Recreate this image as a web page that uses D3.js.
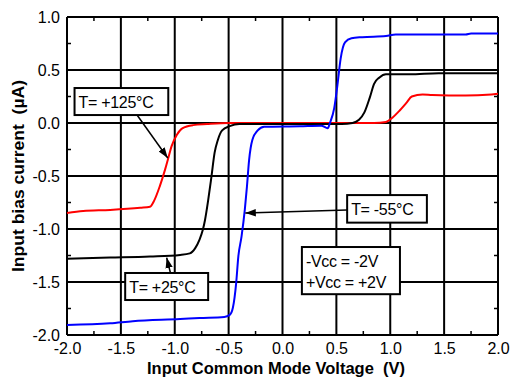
<!DOCTYPE html>
<html>
<head>
<meta charset="utf-8">
<script src="https://cdn.jsdelivr.net/npm/d3@7"></script>
<style>
  html, body { margin: 0; padding: 0; background: #fff; }
  svg text { font-family: "Liberation Sans", Arial, sans-serif; fill: #000; white-space: pre; }
</style>
</head>
<body>
<svg id="chart" width="512" height="381"></svg>
<script>
// Input bias current vs. input common-mode voltage at three temperatures
const xTicks = [-2.0, -1.5, -1.0, -0.5, 0.0, 0.5, 1.0, 1.5, 2.0];
const yTicks = [1.0, 0.5, 0.0, -0.5, -1.0, -1.5, -2.0];

// T = +125 °C
const hotV = [-2.0, -1.85, -1.6, -1.32, -1.23, -1.19, -1.14, -1.09, -1.06, -1.03, -0.98, -0.93, -0.83, -0.70, -0.5, 0.0, 0.5, 0.85, 0.96, 1.02, 1.08, 1.15, 1.20, 1.30, 1.39, 1.70, 1.94, 2.0];
const hotI = [-0.85, -0.83, -0.82, -0.80, -0.79, -0.73, -0.60, -0.44, -0.33, -0.22, -0.11, -0.05, -0.02, -0.01, 0.0, 0.0, 0.0, 0.0, 0.01, 0.05, 0.11, 0.19, 0.25, 0.27, 0.265, 0.26, 0.27, 0.275];

// T = +25 °C
const roomV = [-2.0, -1.6, -1.23, -0.95, -0.86, -0.81, -0.77, -0.74, -0.72, -0.69, -0.66, -0.63, -0.60, -0.56, -0.49, -0.40, 0.0, 0.55, 0.65, 0.71, 0.76, 0.81, 0.85, 0.90, 0.96, 1.18, 1.45, 2.0];
const roomI = [-1.28, -1.27, -1.26, -1.245, -1.23, -1.18, -1.10, -1.01, -0.92, -0.73, -0.51, -0.28, -0.16, -0.07, -0.03, -0.01, -0.01, -0.01, 0.0, 0.03, 0.10, 0.24, 0.37, 0.43, 0.46, 0.46, 0.47, 0.47];

// T = -55 °C
const coldV = [-2.0, -1.6, -1.39, -0.95, -0.77, -0.54, -0.49, -0.46, -0.43, -0.41, -0.38, -0.35, -0.33, -0.31, -0.28, -0.23, -0.17, 0.16, 0.36, 0.42, 0.44, 0.48, 0.51, 0.54, 0.58, 0.64, 0.74, 0.96, 1.05, 1.45, 1.70, 1.75, 2.0];
const coldI = [-1.905, -1.89, -1.87, -1.85, -1.84, -1.83, -1.81, -1.74, -1.51, -1.26, -1.07, -0.82, -0.60, -0.35, -0.16, -0.07, -0.035, -0.03, -0.025, -0.05, 0.0, 0.14, 0.36, 0.61, 0.76, 0.80, 0.81, 0.82, 0.835, 0.835, 0.835, 0.845, 0.845];

const series = [
  { v: hotV, i: hotI, color: "#ff0000" },
  { v: roomV, i: roomI, color: "#000000" },
  { v: coldV, i: coldI, color: "#0000ff" }
];

const svg = d3.select("#chart");
const plotL = 67, plotR = 498, plotT = 17, plotB = 335;

const x = d3.scaleLinear().domain([-2, 2]).range([plotL, plotR]);
const y = d3.scaleLinear().domain([-2, 1]).range([plotB, plotT]);

// grid at the major ticks
const grid = svg.append("g").attr("stroke", "#000").attr("stroke-width", 2);
xTicks.forEach(t => grid.append("line")
  .attr("x1", x(t)).attr("x2", x(t)).attr("y1", plotT).attr("y2", plotB));
yTicks.forEach(t => grid.append("line")
  .attr("x1", plotL).attr("x2", plotR).attr("y1", y(t)).attr("y2", y(t)));

// minor ticks pointing inward on every side
const minorX = d3.range(-1.75, 2, 0.5);
const minorY = d3.range(-1.75, 1, 0.5);
const minor = svg.append("g").attr("stroke", "#000").attr("stroke-width", 1.5);
minorX.forEach(t => {
  minor.append("line").attr("x1", x(t)).attr("x2", x(t)).attr("y1", plotB).attr("y2", plotB - 4);
  minor.append("line").attr("x1", x(t)).attr("x2", x(t)).attr("y1", plotT).attr("y2", plotT + 4);
});
minorY.forEach(t => {
  minor.append("line").attr("x1", plotL).attr("x2", plotL + 4).attr("y1", y(t)).attr("y2", y(t));
  minor.append("line").attr("x1", plotR).attr("x2", plotR - 4).attr("y1", y(t)).attr("y2", y(t));
});

// axes (labels only; frame drawn by the grid)
const fmt = d => d3.format(".1f")(d).replace("\u2212", "-");
const xAxis = d3.axisBottom(x).tickValues(xTicks).tickSize(0).tickPadding(8).tickFormat(fmt);
const yAxis = d3.axisLeft(y).tickValues(yTicks).tickSize(0).tickPadding(7).tickFormat(fmt);
const gx = svg.append("g").attr("transform", `translate(0,${plotB})`).call(xAxis);
const gy = svg.append("g").attr("transform", `translate(${plotL},0)`).call(yAxis);
[gx, gy].forEach(g => {
  g.select(".domain").remove();
  g.selectAll("text").attr("font-size", 16)
    .attr("font-family", "Liberation Sans, Arial, sans-serif").attr("fill", "#000");
});

// curves
const line = d3.line().x(d => x(d[0])).y(d => y(d[1])).curve(d3.curveMonotoneX);
series.forEach(s => {
  svg.append("path")
    .datum(s.v.map((v, k) => [v, s.i[k]]))
    .attr("fill", "none").attr("stroke", s.color).attr("stroke-width", 2)
    .attr("stroke-linejoin", "round")
    .attr("d", line);
});

// axis titles
svg.append("text")
  .attr("x", 147).attr("y", 374)
  .attr("font-size", 16).attr("font-weight", "bold")
  .attr("textLength", 258).attr("lengthAdjust", "spacingAndGlyphs")
  .text("Input Common Mode Voltage  (V)");
svg.append("text")
  .attr("transform", "translate(24,272) rotate(-90)")
  .attr("font-size", 16).attr("font-weight", "bold")
  .attr("textLength", 192).attr("lengthAdjust", "spacingAndGlyphs")
  .text("Input bias current  (\u00b5A)");

// annotations
const defs = svg.append("defs");
defs.append("marker").attr("id", "head")
  .attr("viewBox", "0 0 10 10").attr("refX", 10).attr("refY", 5)
  .attr("markerWidth", 7).attr("markerHeight", 7).attr("orient", "auto")
  .append("path").attr("d", "M0,1.5 L10,5 L0,8.5 Z").attr("fill", "#000");

function arrow(x1, y1, x2, y2) {
  svg.append("line")
    .attr("x1", x(x1)).attr("y1", y(y1)).attr("x2", x(x2)).attr("y2", y(y2))
    .attr("stroke", "#000").attr("stroke-width", 1.5)
    .attr("marker-end", "url(#head)");
}
function box(x0, y0, x1, y1, lines) {
  svg.append("rect")
    .attr("x", x(x0)).attr("y", y(y0))
    .attr("width", x(x1) - x(x0)).attr("height", y(y1) - y(y0))
    .attr("fill", "#fff").attr("stroke", "#000").attr("stroke-width", 2);
  lines.forEach((t, k) => {
    svg.append("text")
      .attr("x", x(x0) + 4).attr("y", y(y0) + 20 + k * 21)
      .attr("font-size", 16).attr("letter-spacing", -0.3)
      .text(t);
  });
}

arrow(-1.35, 0.075, -1.065, -0.33);
box(-1.93, 0.33, -1.06, 0.075, ["T= +125\u00b0C"]);

arrow(-1.04, -1.415, -1.075, -1.27);
box(-1.46, -1.415, -0.69, -1.67, ["T= +25\u00b0C"]);

arrow(0.6, -0.82, -0.345, -0.85);
box(0.6, -0.68, 1.34, -0.94, ["T= -55\u00b0C"]);

box(0.18, -1.17, 1.09, -1.615, ["-Vcc = -2V", "+Vcc = +2V"]);
</script>
</body>
</html>
